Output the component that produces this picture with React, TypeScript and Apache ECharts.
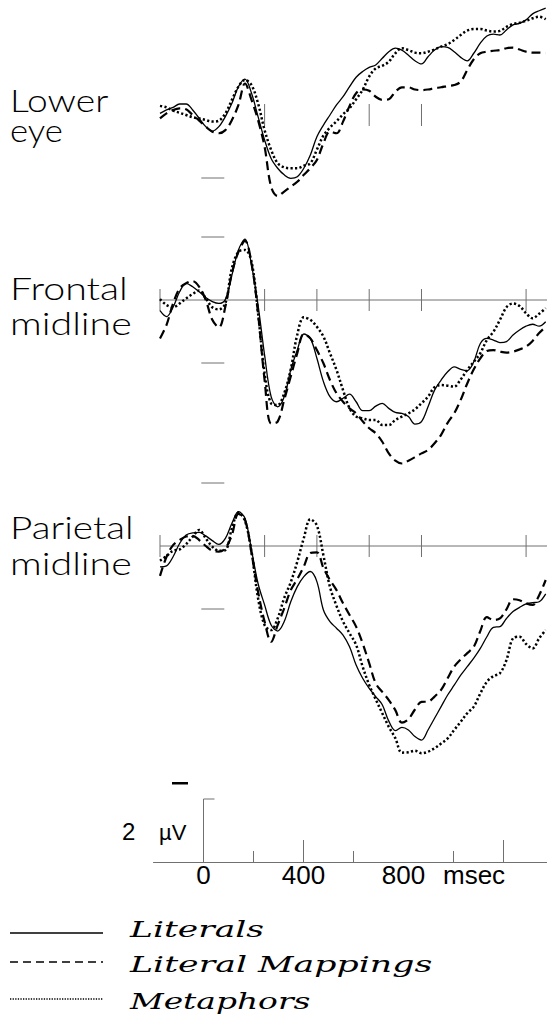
import React, { useEffect, useRef } from "react";
import * as echarts from "echarts";

// ---------- DATA ----------
const times = [-200, -175, -150, -125, -100, -75, -50, -25, 0, 25, 50, 75, 100, 125, 150, 175, 200, 225, 250, 275, 300, 325, 350, 375, 400, 425, 450, 475, 500, 525, 550, 575, 600, 625, 650, 675, 700, 725, 750, 775, 800, 825, 850, 875, 900, 925, 950, 975, 1000, 1025, 1050, 1075, 1100, 1125, 1150, 1175, 1200, 1225, 1250, 1275];

// microvolts, negative plotted up
const lowerEyeLiterals = [-0.05, -0.16, -0.24, -0.35, -0.35, -0.16, 0.11, 0.37, 0.51, 0.37, 0.05, -0.37, -0.90, -1.14, -0.69, 0.05, 0.79, 1.38, 1.69, 1.90, 2.01, 1.96, 1.69, 1.27, 0.69, 0.32, 0.00, -0.32, -0.58, -0.90, -1.20, -1.38, -1.51, -1.59, -1.80, -2.01, -2.12, -2.06, -1.90, -1.72, -1.62, -1.85, -2.06, -2.17, -2.15, -2.01, -1.83, -1.72, -1.96, -2.28, -2.51, -2.57, -2.54, -2.70, -2.86, -2.91, -3.02, -3.21, -3.31, -3.39];
const lowerEyeMappings = [0.11, -0.05, -0.16, -0.21, -0.18, 0, 0.18, 0.37, 0.53, 0.58, 0.48, 0.16, -0.32, -1.0, -0.48, 0.16, 1.01, 2.28, 2.57, 2.43, 2.28, 2.12, 1.90, 1.69, 1.43, 0.90, 0.53, 0.58, 0.21, -0.29, -0.69, -0.81, -0.77, -0.58, -0.48, -0.50, -0.74, -0.88, -0.88, -0.81, -0.79, -0.81, -0.85, -0.88, -0.92, -0.95, -1.06, -1.43, -1.77, -1.96, -2.01, -2.04, -2.06, -2.12, -2.14, -2.08, -2.01, -1.98, -1.98, -1.96];
const lowerEyeMetaphors = [-0.29, -0.24, -0.14, -0.07, 0, 0.07, 0.11, 0.16, 0.21, 0.18, -0.05, -0.48, -0.90, -1.11, -0.95, -0.37, 0.48, 1.11, 1.53, 1.66, 1.69, 1.69, 1.61, 1.53, 1.10, 0.65, 0.40, 0.20, -0.02, -0.22, -0.50, -0.80, -1.22, -1.48, -1.56, -1.69, -1.96, -2.12, -2.06, -1.98, -1.96, -2.01, -2.08, -2.17, -2.25, -2.38, -2.54, -2.68, -2.73, -2.73, -2.68, -2.65, -2.67, -2.80, -2.89, -2.93, -2.99, -3.07, -3.12, -3.04];

const frontalLiterals = [0.34, 0.53, 0.23, -0.26, -0.53, -0.42, -0.26, -0.08, 0.05, 0.11, -0.02, -0.79, -1.59, -1.93, -1.11, 0.16, 1.75, 3.07, 3.39, 3.07, 2.22, 1.59, 1.08, 1.22, 1.85, 2.59, 3.07, 3.23, 3.12, 2.99, 3.23, 3.51, 3.51, 3.37, 3.28, 3.44, 3.57, 3.60, 3.70, 3.94, 3.86, 3.39, 2.86, 2.54, 2.28, 2.12, 2.20, 2.24, 1.96, 1.38, 1.22, 1.27, 1.35, 1.32, 1.11, 0.95, 0.83, 0.77, 0.83, 0.69];
const frontalMappings = [1.22, 0.79, 0.11, -0.37, -0.53, -0.60, -0.42, 0, 0.63, 0.87, 0.21, -0.85, -1.53, -1.88, -1.16, 0.42, 2.54, 3.92, 3.86, 3.17, 2.43, 1.69, 1.08, 1.22, 1.59, 2.01, 2.54, 2.96, 3.23, 3.44, 3.60, 3.85, 4.07, 4.23, 4.50, 4.87, 5.10, 5.19, 5.10, 4.99, 4.87, 4.76, 4.55, 4.28, 3.90, 3.60, 3.17, 2.65, 2.20, 1.85, 1.62, 1.59, 1.64, 1.67, 1.64, 1.57, 1.48, 1.30, 1.05, 0.85];
const frontalMetaphors = [-0.03, 0.16, 0.23, 0.11, -0.05, -0.19, -0.30, -0.05, 0.23, 0.30, 0.11, -1.01, -1.53, -1.59, -1.22, 0.42, 2.33, 3.28, 3.33, 2.96, 2.20, 1.10, 0.55, 0.63, 0.85, 1.16, 1.69, 2.22, 2.86, 3.44, 3.70, 3.76, 3.81, 3.81, 3.97, 3.97, 3.81, 3.70, 3.60, 3.47, 3.28, 3.07, 2.77, 2.70, 2.72, 2.75, 2.52, 2.22, 1.96, 1.69, 1.27, 1.01, 0.63, 0.23, 0.11, 0.19, 0.42, 0.58, 0.44, 0.26];

const parietalLiterals = [0.66, 0.63, 0.34, -0.08, -0.35, -0.42, -0.43, -0.32, -0.17, -0.05, -0.24, -0.72, -1.09, -0.88, 0.13, 1.19, 1.87, 2.51, 2.70, 2.40, 1.77, 1.29, 0.97, 0.81, 1.13, 2.03, 2.40, 2.61, 2.83, 3.20, 3.78, 4.20, 4.52, 4.78, 5.04, 5.56, 5.86, 5.76, 5.84, 6.05, 6.16, 5.84, 5.47, 5.10, 4.73, 4.42, 4.10, 3.83, 3.56, 3.25, 2.88, 2.58, 2.56, 2.30, 2.08, 1.95, 1.84, 1.80, 1.77, 1.52];
const parietalMappings = [0.95, 0.34, -0.03, -0.19, -0.30, -0.32, -0.19, 0, 0.15, 0.18, 0.07, -0.35, -1.02, -0.83, 0.23, 1.45, 2.40, 3.04, 2.51, 1.98, 1.40, 1.05, 0.65, 0.22, 0.20, 0.70, 1.08, 1.40, 1.82, 2.19, 2.56, 3.09, 3.72, 4.36, 4.63, 4.89, 5.21, 5.61, 5.50, 5.19, 4.95, 4.94, 4.78, 4.57, 4.20, 3.83, 3.60, 3.40, 3.20, 2.70, 2.26, 2.35, 2.30, 2.01, 1.69, 1.72, 1.82, 1.87, 1.56, 1.08];
const parietalMetaphors = [0.47, 0.32, 0.15, 0.11, -0.06, -0.30, -0.51, -0.24, 0.02, 0.15, 0.13, -0.56, -1.06, -0.80, 0.18, 1.66, 2.51, 2.67, 2.30, 1.65, 1.15, 0.50, -0.25, -0.85, -0.65, 0.30, 1.30, 1.90, 2.40, 2.77, 3.14, 3.83, 4.41, 4.87, 5.31, 5.74, 6.10, 6.56, 6.55, 6.50, 6.58, 6.53, 6.42, 6.27, 6.11, 5.84, 5.58, 5.31, 5.10, 4.68, 4.31, 4.13, 4.04, 3.62, 2.93, 2.88, 3.11, 3.25, 2.93, 2.67];

const conditions = ["Literals", "Literal Mappings", "Metaphors"];
const panelNames = [["Lower", "eye"], ["Frontal", "midline"], ["Parietal", "midline"]];
const panelTimeTicks = [[200, 600, 800], [-200, 200, 400, 600, 800, 1200], [-200, 200, 400, 600, 800, 1200]];
const panelVoltTicks = [[2], [-2, 2], [-2, 2]];
const scaleBarMicrovolts = 2;
const bottomAxisLabels = [0, 400, 800];
const bottomShortTicks = [200, 600, 1000];
const bottomLongTicks = [400, 1200];

// ---------- LAYOUT / STYLE ----------
const PX_PER_UV = 31.5;
const AXIS_COLOR = "#707070";
const PANEL_LEFT = 160;
const PANEL_WIDTH = 387;
const panelLayout = [
  { zeroY: 115, yMin: -3.5, yMax: 3, zeroLine: false },
  { zeroY: 300, yMin: -3, yMax: 6, zeroLine: true },
  { zeroY: 546, yMin: -3, yMax: 7, zeroLine: true },
];
const LABEL_FONT = "Lato";
const labelLayout = [
  [{ y: 100, sx: 1.2 }, { y: 130.5, sx: 1.12 }],
  [{ y: 288.5, sx: 1.27 }, { y: 323.5, sx: 1.27 }],
  [{ y: 526.5, sx: 1.25 }, { y: 563, sx: 1.27 }],
];
const lineStyles = [
  { width: 1.3, type: "solid" },
  { width: 2.2, type: [9, 5] },
  { width: 2.5, type: [2.2, 2.3] },
];
const legendLineDash = [null, [8, 5], [1.3, 1.3]];
const legendY = [933, 962, 999];
const legendTextY = [929.5, 964.5, 1001.5];
const legendTextScale = [1.5, 1.51, 1.43];

function buildOption() {
  const panelData = [
    [lowerEyeLiterals, lowerEyeMappings, lowerEyeMetaphors],
    [frontalLiterals, frontalMappings, frontalMetaphors],
    [parietalLiterals, parietalMappings, parietalMetaphors],
  ];

  const grid: any[] = panelLayout.map((p) => ({
    left: PANEL_LEFT,
    width: PANEL_WIDTH,
    top: p.zeroY + p.yMin * PX_PER_UV,
    height: (p.yMax - p.yMin) * PX_PER_UV,
    containLabel: false,
    outerBoundsMode: "none",
  }));
  grid.push({ left: 153.5, width: 400, top: 862 - 3 * PX_PER_UV, height: 3 * PX_PER_UV, containLabel: false, outerBoundsMode: "none" });

  const xAxis: any[] = panelLayout.map((_, i) => ({
    type: "value", gridIndex: i, min: -200, max: 1280, show: false,
  }));
  xAxis.push({
    type: "value", gridIndex: 3, min: -200, max: 1400, interval: 200,
    axisLine: { show: true, lineStyle: { color: AXIS_COLOR, width: 1 } },
    axisTick: { show: false },
    splitLine: { show: false },
    axisLabel: {
      show: true, margin: 13, verticalAlign: "middle",
      fontFamily: "Liberation Sans", fontSize: 26, color: "#000",
      formatter: (v: number) => (bottomAxisLabels.includes(v) ? String(v) : ""),
    },
  });

  const yAxis: any[] = panelLayout.map((p, i) => ({
    type: "value", gridIndex: i, min: p.yMin, max: p.yMax, inverse: true, show: false,
  }));
  yAxis.push({ type: "value", gridIndex: 3, min: 0, max: 3, show: false });

  const series: any[] = [];

  panelLayout.forEach((p, gi) => {
    if (p.zeroLine) {
      series.push({
        type: "custom", xAxisIndex: gi, yAxisIndex: gi, silent: true, z: 1,
        data: [[-200, 0]],
        renderItem: (params: any, api: any) => {
          const c = api.coord([api.value(0), api.value(1)]);
          const right = params.coordSys.x + params.coordSys.width;
          return { type: "line", shape: { x1: c[0], y1: c[1], x2: right, y2: c[1] }, style: { stroke: AXIS_COLOR, lineWidth: 1 } };
        },
      });
    }
    series.push({
      type: "custom", xAxisIndex: gi, yAxisIndex: gi, silent: true, z: 1,
      data: panelTimeTicks[gi].map((t) => [t, 0]),
      renderItem: (params: any, api: any) => {
        const c = api.coord([api.value(0), api.value(1)]);
        return { type: "line", shape: { x1: c[0], y1: c[1] - 11, x2: c[0], y2: c[1] + 11 }, style: { stroke: AXIS_COLOR, lineWidth: 1 } };
      },
    });
    series.push({
      type: "custom", xAxisIndex: gi, yAxisIndex: gi, silent: true, z: 1,
      data: panelVoltTicks[gi].map((v) => [0, v]),
      renderItem: (params: any, api: any) => {
        const c = api.coord([api.value(0), api.value(1)]);
        return { type: "line", shape: { x1: c[0] - 11, y1: c[1], x2: c[0] + 12, y2: c[1] }, style: { stroke: AXIS_COLOR, lineWidth: 1 } };
      },
    });
    panelData[gi].forEach((vals, si) => {
      series.push({
        name: conditions[si], type: "line", xAxisIndex: gi, yAxisIndex: gi,
        data: times.map((t, k) => [t, vals[k]]),
        showSymbol: false, symbol: "none", smooth: 0.35, clip: false, z: 3,
        lineStyle: { color: "#000", width: lineStyles[si].width, type: lineStyles[si].type, cap: "butt" },
      });
    });
  });

  // bottom scale: calibration bar and tick marks
  series.push({
    type: "custom", xAxisIndex: 3, yAxisIndex: 3, silent: true, z: 1,
    data: [[0, scaleBarMicrovolts]],
    renderItem: (params: any, api: any) => {
      const base = api.coord([api.value(0), 0]);
      const top = api.coord([api.value(0), api.value(1)]);
      return {
        type: "group",
        children: [
          { type: "line", shape: { x1: base[0], y1: base[1], x2: top[0], y2: top[1] }, style: { stroke: AXIS_COLOR, lineWidth: 1 } },
          { type: "line", shape: { x1: top[0], y1: top[1], x2: top[0] + 11, y2: top[1] }, style: { stroke: AXIS_COLOR, lineWidth: 1 } },
        ],
      };
    },
  });
  [[bottomShortTicks, 11], [bottomLongTicks, 22]].forEach(([ticks, len]: any) => {
    series.push({
      type: "custom", xAxisIndex: 3, yAxisIndex: 3, silent: true, z: 1,
      data: ticks.map((t: number) => [t, 0]),
      renderItem: (params: any, api: any) => {
        const c = api.coord([api.value(0), api.value(1)]);
        return { type: "line", shape: { x1: c[0], y1: c[1], x2: c[0], y2: c[1] - len }, style: { stroke: AXIS_COLOR, lineWidth: 1 } };
      },
    });
  });

  const graphic: any[] = [];
  panelNames.forEach((lines, pi) => {
    lines.forEach((txt, li) => {
      graphic.push({
        type: "text", x: 10, y: labelLayout[pi][li].y, scaleX: labelLayout[pi][li].sx,
        style: {
          text: txt, fontFamily: LABEL_FONT, fontWeight: 300, fontSize: 31, fill: "#000",
          align: "left", verticalAlign: "middle", textAlign: "left", textVerticalAlign: "middle",
        },
      });
    });
  });
  // polarity minus mark
  graphic.push({ type: "rect", shape: { x: 172, y: 782, width: 16, height: 2.5 }, style: { fill: "#000" } });
  graphic.push({
    type: "text", x: 122, y: 831.5,
    style: { text: String(scaleBarMicrovolts), fontFamily: "Liberation Sans", fontSize: 24, fill: "#000", align: "left", verticalAlign: "middle", textAlign: "left", textVerticalAlign: "middle" },
  });
  graphic.push({
    type: "text", x: 159, y: 832,
    style: { text: "µV", fontFamily: "Liberation Sans", fontSize: 22, fill: "#000", align: "left", verticalAlign: "middle", textAlign: "left", textVerticalAlign: "middle" },
  });
  graphic.push({
    type: "text", x: 443, y: 875,
    style: { text: "msec", fontFamily: "Liberation Sans", fontSize: 26, fill: "#000", align: "left", verticalAlign: "middle", textAlign: "left", textVerticalAlign: "middle" },
  });
  // legend
  conditions.forEach((c, i) => {
    const ls: any = { stroke: "#000", lineWidth: 1.5 };
    if (legendLineDash[i]) ls.lineDash = legendLineDash[i];
    graphic.push({ type: "line", shape: { x1: 10, y1: legendY[i], x2: 103, y2: legendY[i] }, style: ls });
    graphic.push({
      type: "text", x: 130, y: legendTextY[i], scaleX: legendTextScale[i],
      style: {
        text: c, fontFamily: "DejaVu Serif", fontStyle: "italic", fontSize: 23, fill: "#000",
        align: "left", verticalAlign: "middle", textAlign: "left", textVerticalAlign: "middle",
      },
    });
  });

  return {
    animation: false,
    backgroundColor: "#fff",
    grid, xAxis, yAxis, series, graphic,
  };
}

export default function App() {
  const ref = useRef<HTMLDivElement>(null);
  useEffect(() => {
    const chart = echarts.init(ref.current as HTMLDivElement, null, { renderer: "svg" });
    chart.setOption(buildOption() as any);
    return () => chart.dispose();
  }, []);
  return <div ref={ref} style={{ position: "absolute", left: 0, top: 0, width: 547, height: 1021 }} />;
}
